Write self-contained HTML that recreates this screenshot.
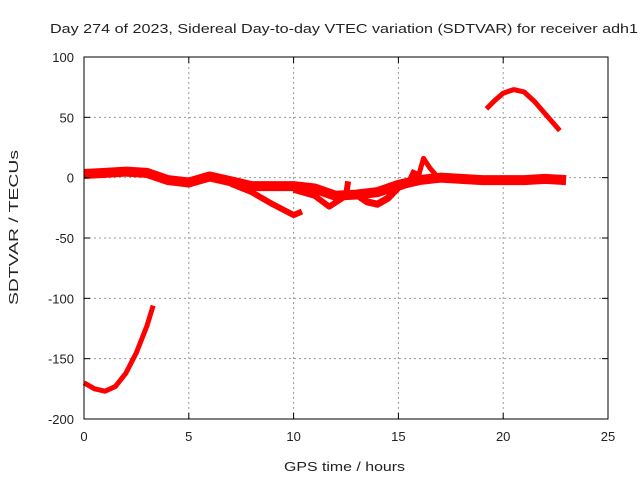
<!DOCTYPE html>
<html><head><meta charset="utf-8"><style>
body{margin:0;background:#fff}
svg text{font-family:"Liberation Sans",sans-serif;font-size:13px;fill:#222}
</style></head><body>
<svg width="640" height="480" xmlns="http://www.w3.org/2000/svg">
<g id="grid"></g>
<g id="marks"></g>
<rect x="84" y="57" width="524" height="362" fill="none" stroke="#000" stroke-width="1"/>
<g id="ticks"></g>
<text x="50" y="33" font-size="15" textLength="588" lengthAdjust="spacingAndGlyphs">Day 274 of 2023, Sidereal Day-to-day VTEC variation (SDTVAR) for receiver adh1</text>
<text x="284" y="471" font-size="15" textLength="121" lengthAdjust="spacingAndGlyphs">GPS time / hours</text>
<text transform="translate(18,305) rotate(-90)" font-size="15" textLength="155" lengthAdjust="spacingAndGlyphs">SDTVAR / TECUs</text>
</svg>
<script>
const xTicks=[0,5,10,15,20,25];
const yTicks=[100,50,0,-50,-100,-150,-200];
const seriesMorning=[[0,-170],[0.5,-175],[1,-177],[1.5,-173],[2,-162],[2.5,-145],[3,-123],[3.3,-106]];
const seriesEvening=[[19.2,57],[19.6,64],[20,70],[20.5,73],[21,71],[21.5,63],[22,53],[22.7,39]];
const seriesMain=[[0,3],[1,4],[2,5],[3,4],[4,-2],[5,-4],[6,1],[7,-3],[8,-7],[9,-7],[10,-7],[11,-9],[12,-15],[13,-14],[14,-12],[15,-6],[16,-2],[17,0],[18,-1],[19,-2],[20,-2],[21,-2],[22,-1],[23,-2]];
const seriesBranch1=[[7,-5],[8,-12],[9,-22],[10,-31],[10.4,-28]];
const seriesBranch2=[[10,-10],[11,-15],[11.7,-24],[12.5,-15],[12.6,-3]];
const seriesBranch3=[[13,-14],[13.5,-20],[14,-22],[14.5,-17],[15,-8],[15.5,-5],[15.8,6]];
const seriesBranch4=[[15.9,-2],[16.2,16],[16.5,8],[16.8,2]];
const sx=v=>84+v*524/25;
const sy=v=>57+(100-v)*362/300;
const NS='http://www.w3.org/2000/svg';
const grid=document.getElementById('grid'),ticks=document.getElementById('ticks'),marks=document.getElementById('marks');
function mk(t,a,p){const e=document.createElementNS(NS,t);for(const k in a)e.setAttribute(k,a[k]);p.appendChild(e);return e;}
xTicks.forEach(v=>{
 if(v>0&&v<25){const g=mk('line',{x1:sx(v),x2:sx(v),y1:57,y2:419,stroke:'#999','stroke-dasharray':'2,3'},grid);
 
 }
 const t=mk('text',{x:sx(v),y:441,'text-anchor':'middle'},ticks);t.textContent=v;
 
 
 mk('line',{x1:sx(v),x2:sx(v),y1:419,y2:413,stroke:'#000'},ticks);
 mk('line',{x1:sx(v),x2:sx(v),y1:57,y2:63,stroke:'#000'},ticks);
});
yTicks.forEach(v=>{
 if(v<100&&v>-200){const g=mk('line',{x1:84,x2:608,y1:sy(v),y2:sy(v),stroke:'#999','stroke-dasharray':'2,3'},grid);
 
 }
 const t=mk('text',{x:74,y:sy(v)+5,'text-anchor':'end'},ticks);t.textContent=v;
 
 
 mk('line',{x1:84,x2:90,y1:sy(v),y2:sy(v),stroke:'#000'},ticks);
 mk('line',{x1:602,x2:608,y1:sy(v),y2:sy(v),stroke:'#000'},ticks);
});
[[seriesMorning,5,'series-morning'],[seriesEvening,5,'series-evening'],[seriesMain,10,'series-main'],[seriesBranch1,6,'series-branch-1'],[seriesBranch2,6,'series-branch-2'],[seriesBranch3,7,'series-branch-3'],[seriesBranch4,5,'series-branch-4']].forEach(([d,w,n])=>{
 const p=mk('polyline',{points:d.map(q=>sx(q[0])+','+sy(q[1])).join(' '),fill:'none',stroke:'#ff0000','stroke-width':w,'stroke-linejoin':'round'},marks);
 
 
});
</script>
</body></html>
